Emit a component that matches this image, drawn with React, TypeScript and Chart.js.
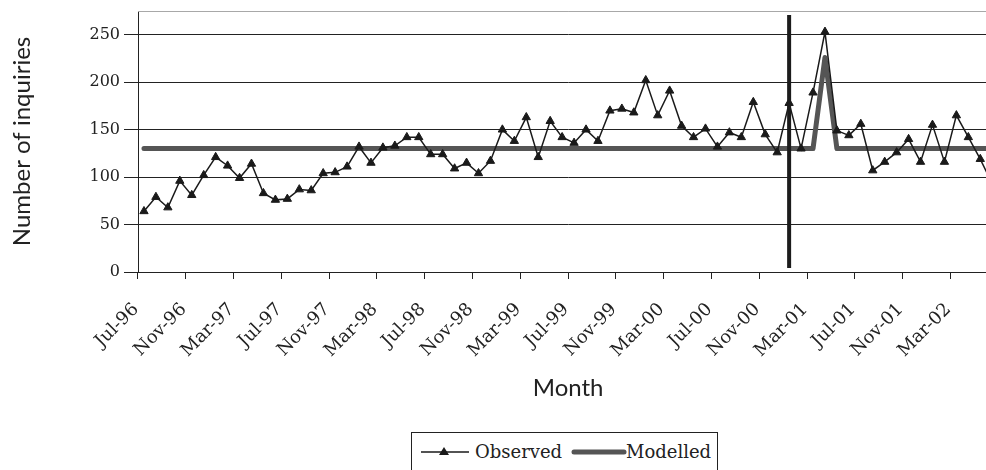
import React, { useEffect, useRef } from 'react';
import { Chart, registerables } from 'chart.js';

Chart.register(...registerables);

const months = [
  'Jul-96', 'Aug-96', 'Sep-96', 'Oct-96', 'Nov-96', 'Dec-96',
  'Jan-97', 'Feb-97', 'Mar-97', 'Apr-97', 'May-97', 'Jun-97',
  'Jul-97', 'Aug-97', 'Sep-97', 'Oct-97', 'Nov-97', 'Dec-97',
  'Jan-98', 'Feb-98', 'Mar-98', 'Apr-98', 'May-98', 'Jun-98',
  'Jul-98', 'Aug-98', 'Sep-98', 'Oct-98', 'Nov-98', 'Dec-98',
  'Jan-99', 'Feb-99', 'Mar-99', 'Apr-99', 'May-99', 'Jun-99',
  'Jul-99', 'Aug-99', 'Sep-99', 'Oct-99', 'Nov-99', 'Dec-99',
  'Jan-00', 'Feb-00', 'Mar-00', 'Apr-00', 'May-00', 'Jun-00',
  'Jul-00', 'Aug-00', 'Sep-00', 'Oct-00', 'Nov-00', 'Dec-00',
  'Jan-01', 'Feb-01', 'Mar-01', 'Apr-01', 'May-01', 'Jun-01',
  'Jul-01', 'Aug-01', 'Sep-01', 'Oct-01', 'Nov-01', 'Dec-01',
  'Jan-02', 'Feb-02', 'Mar-02', 'Apr-02', 'May-02', 'Jun-02',
];

const observed = [
  64, 79, 68, 96, 81, 102, 121, 112, 99, 114, 83, 76,
  77, 87, 86, 104, 105, 111, 132, 115, 131, 133, 142, 142,
  124, 124, 109, 115, 104, 117, 150, 138, 163, 121, 159, 142,
  136, 150, 138, 170, 172, 168, 202, 165, 191, 154, 142, 151,
  132, 147, 142, 179, 145, 126, 178, 130, 189, 253, 149, 144,
  156, 107, 116, 126, 140, 116, 155, 116, 165, 142, 119, 93,
];

const modelled = [
  130, 130, 130, 130, 130, 130, 130, 130, 130, 130, 130, 130,
  130, 130, 130, 130, 130, 130, 130, 130, 130, 130, 130, 130,
  130, 130, 130, 130, 130, 130, 130, 130, 130, 130, 130, 130,
  130, 130, 130, 130, 130, 130, 130, 130, 130, 130, 130, 130,
  130, 130, 130, 130, 130, 130, 130, 130, 130, 226, 130, 130,
  130, 130, 130, 130, 130, 130, 130, 130, 130, 130, 130, 130,
];

const yTicks = [0, 50, 100, 150, 200, 250];
const interventionMonth = 'Jan-01';
const labelEvery = 4;

export default function App() {
  const ref = useRef<HTMLCanvasElement | null>(null);

  useEffect(() => {
    if (!ref.current) return;
    const overlay = {
      id: 'overlay',
      beforeDatasetsDraw(chart: any) {
        const { ctx, chartArea } = chart;
        ctx.save();
        ctx.strokeStyle = '#a8a8a8';
        ctx.lineWidth = 1;
        ctx.beginPath();
        ctx.moveTo(chartArea.left, chartArea.top + 0.5);
        ctx.lineTo(chartArea.right, chartArea.top + 0.5);
        ctx.stroke();
        ctx.restore();
      },
      afterDatasetsDraw(chart: any) {
        const { ctx, chartArea } = chart;
        const xs = chart.scales.x;
        const x = xs.getPixelForValue(months.indexOf(interventionMonth));
        ctx.save();
        ctx.strokeStyle = '#1c1c1c';
        ctx.lineWidth = 4;
        ctx.beginPath();
        ctx.moveTo(x, chartArea.top + 4);
        ctx.lineTo(x, chartArea.bottom - 4);
        ctx.stroke();
        ctx.restore();
      },
    };

    const chart = new Chart(ref.current, {
      type: 'line',
      data: {
        labels: months,
        datasets: [
          {
            label: 'Observed',
            data: observed,
            borderColor: '#1a1a1a',
            borderWidth: 1.5,
            pointStyle: 'triangle',
            pointRadius: 4.8,
            pointBorderWidth: 1,
            pointBackgroundColor: '#1a1a1a',
            pointBorderColor: '#1a1a1a',
            tension: 0,
            fill: false,
          },
          {
            label: 'Modelled',
            data: modelled,
            borderColor: '#555555',
            borderWidth: 5,
            pointRadius: 0,
            borderCapStyle: 'round',
            borderJoinStyle: 'round',
            tension: 0,
            fill: false,
          },
        ],
      },
      options: {
        animation: false,
        responsive: false,
        devicePixelRatio: 1,
        layout: { padding: { top: 11, right: 0, bottom: 66, left: 0 } },
        plugins: {
          legend: { display: false },
          tooltip: { enabled: false },
        },
        scales: {
          x: {
            type: 'category',
            offset: true,
            grid: {
              offset: true,
              drawOnChartArea: false,
              tickLength: 7,
              lineWidth: 1,
              color: (c: any) => (c.index % labelEvery === 0 ? '#222222' : 'rgba(0,0,0,0)'),
            },
            border: { display: true, color: '#222222', width: 1 },
            ticks: {
              autoSkip: false,
              maxRotation: 45,
              minRotation: 45,
              padding: 20,
              labelOffset: -8,
              color: '#222222',
              font: { family: 'DejaVu Serif', size: 18 },
              callback: (_v: any, i: number) => (i % labelEvery === 0 ? months[i] : ''),
            },
            title: {
              display: true,
              text: 'Month',
              color: '#222222',
              font: { family: 'Lato', size: 24 },
              padding: { top: 0, bottom: 1 },
            },
            afterFit: (s: any) => {
              s.height = 132;
              s.paddingLeft = 0;
              s.paddingRight = 0;
            },
          },
          y: {
            min: 0,
            max: 275,
            afterBuildTicks: (s: any) => {
              s.ticks = yTicks.map((v) => ({ value: v }));
            },
            grid: { color: '#222222', lineWidth: 1, tickLength: 14 },
            border: { display: true, color: '#222222', width: 1 },
            ticks: {
              padding: 4,
              color: '#222222',
              font: { family: 'DejaVu Serif', size: 16 },
            },
            title: {
              display: true,
              text: 'Number of inquiries',
              color: '#222222',
              font: { family: 'Lato', size: 24 },
              padding: { top: 8, bottom: 0 },
            },
            afterFit: (s: any) => {
              s.width = 138;
              s.paddingTop = 0;
              s.paddingBottom = 0;
            },
          },
        },
      },
      plugins: [overlay],
    } as any);

    return () => chart.destroy();
  }, []);

  const legendText: React.CSSProperties = {
    position: 'absolute',
    top: 8,
    fontFamily: 'DejaVu Serif',
    fontSize: 18,
    lineHeight: '22px',
    color: '#222',
    whiteSpace: 'nowrap',
  };

  return (
    <div
      style={{
        position: 'fixed',
        left: 0,
        top: 0,
        width: 986,
        height: 470,
        overflow: 'hidden',
        background: '#ffffff',
      }}
    >
      <canvas ref={ref} width={1004} height={470} style={{ display: 'block', width: 1004, height: 470 }} />
      <div
        style={{
          position: 'absolute',
          left: 411,
          top: 432,
          width: 307,
          height: 60,
          border: '1px solid #222',
          background: '#fff',
          boxSizing: 'border-box',
        }}
      >
        <svg style={{ position: 'absolute', left: 8, top: 9 }} width={50} height={20}>
          <line x1={1} y1={10} x2={49} y2={10} stroke="#1a1a1a" strokeWidth={1.5} />
          <polygon points="24,5 29,13 19,13" fill="#1a1a1a" />
        </svg>
        <span style={{ ...legendText, left: 63 }}>Observed</span>
        <svg style={{ position: 'absolute', left: 158, top: 9 }} width={58} height={20}>
          <line x1={4} y1={10} x2={54} y2={10} stroke="#555" strokeWidth={5} strokeLinecap="round" />
        </svg>
        <span style={{ ...legendText, left: 214 }}>Modelled</span>
      </div>
    </div>
  );
}
